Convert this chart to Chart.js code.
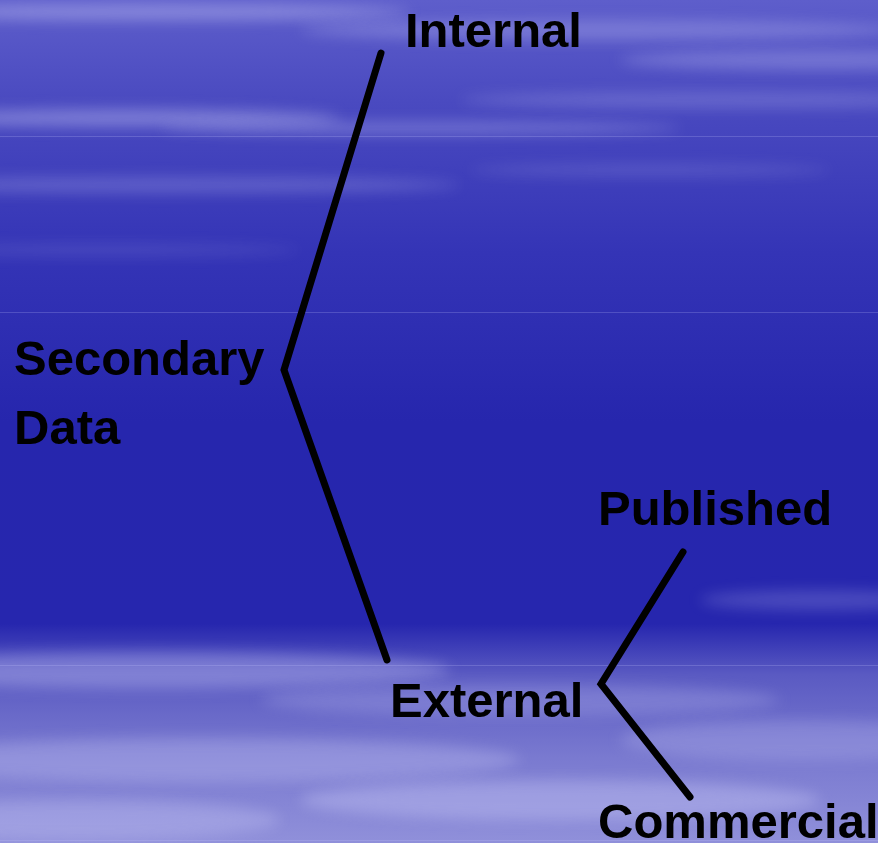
<!DOCTYPE html>
<html>
<head>
<meta charset="utf-8">
<script src="https://cdn.jsdelivr.net/npm/chart.js@4.4.0/dist/chart.umd.min.js"></script>
<style>
  html, body { margin: 0; padding: 0; background: #2828b0; }
  #wrap { width: 878px; height: 843px; position: relative; }
</style>
</head>
<body>
<div id="wrap"><canvas id="tree"></canvas></div>
<script>
// branch lines (x, y in picture units)
const mainX = [381, 284, 387];
const mainY = [53, 370, 660];
const subX = [683, 601, 690];
const subY = [552, 684, 797];

// labels and their anchor (left, baseline)
const nodeLabels = ['Internal', 'Secondary', 'Data', 'Published', 'External', 'Commercial'];
const nodeX = [405, 14, 14, 598, 390, 598];
const nodeY = [47, 375, 444, 525, 717, 838];

function toPoints(xs, ys) {
    return xs.map((x, i) => ({ x: x, y: ys[i] }));
}

const skyPlugin = {
    id: 'sky',
    beforeDraw(chart) {
        const c = chart.ctx, w = chart.width, h = chart.height;
        c.save();
        const g = c.createLinearGradient(0, 0, 0, h);
        g.addColorStop(0, '#5e5ecb');
        g.addColorStop(0.12, '#4a4ac0');
        g.addColorStop(0.3, '#3434b6');
        g.addColorStop(0.5, '#2626ad');
        g.addColorStop(0.74, '#2626ae');
        g.addColorStop(0.8, '#5a5ac2');
        g.addColorStop(0.9, '#7a7ad0');
        g.addColorStop(1, '#9090da');
        c.fillStyle = g;
        c.fillRect(0, 0, w, h);

        // cloud streaks
        c.filter = 'blur(7px)';
        const streaks = [
            [150, 12, 260, 8, 0.35], [600, 30, 300, 10, 0.25], [820, 60, 200, 10, 0.25],
            [120, 118, 220, 9, 0.35], [420, 128, 260, 6, 0.3], [720, 100, 260, 8, 0.2],
            [160, 185, 300, 8, 0.22], [650, 170, 180, 6, 0.15], [100, 250, 200, 6, 0.12],
            [150, 670, 300, 18, 0.3], [520, 700, 260, 16, 0.2], [200, 760, 320, 22, 0.25],
            [560, 800, 260, 20, 0.3], [820, 600, 120, 10, 0.2], [800, 740, 180, 20, 0.2],
            [80, 820, 200, 20, 0.25]
        ];
        streaks.forEach(s => {
            c.fillStyle = 'rgba(220,220,255,' + s[4] + ')';
            c.beginPath();
            c.ellipse(s[0], s[1], s[2], s[3], 0, 0, Math.PI * 2);
            c.fill();
        });
        c.filter = 'none';

        // faint seams
        c.fillStyle = 'rgba(200,200,255,0.22)';
        [136, 312, 665, 840].forEach(y => c.fillRect(0, y, w, 1));
        c.restore();
    }
};

const labelPlugin = {
    id: 'nodeLabels',
    afterDatasetsDraw(chart) {
        const c = chart.ctx;
        const xs = chart.scales.x, ys = chart.scales.y;
        c.save();
        c.font = 'bold 49px "Liberation Sans", Arial, sans-serif';
        c.fillStyle = '#000';
        c.textAlign = 'left';
        c.textBaseline = 'alphabetic';
        nodeLabels.forEach((t, i) => {
            c.fillText(t, xs.getPixelForValue(nodeX[i]), ys.getPixelForValue(nodeY[i]));
        });
        c.restore();
    }
};

const lineStyle = {
    showLine: true,
    borderColor: '#000',
    borderWidth: 7,
    borderCapStyle: 'round',
    borderJoinStyle: 'miter',
    pointRadius: 0,
    fill: false,
    tension: 0
};

const ctx = document.getElementById('tree').getContext('2d');
const tree = new Chart(ctx, {
    type: 'scatter',
    data: {
        datasets: [
            Object.assign({ label: 'Secondary Data', data: toPoints(mainX, mainY) }, lineStyle),
            Object.assign({ label: 'External', data: toPoints(subX, subY) }, lineStyle)
        ]
    },
    options: {
        responsive: true,
        maintainAspectRatio: false,
        animation: false,
        layout: { padding: 0 },
        scales: {
            x: { type: 'linear', min: 0, max: 878, display: false },
            y: { type: 'linear', min: 0, max: 843, reverse: true, display: false }
        },
        plugins: {
            legend: { display: false },
            tooltip: { enabled: false }
        }
    },
    plugins: [skyPlugin, labelPlugin]
});
</script>
</body>
</html>
